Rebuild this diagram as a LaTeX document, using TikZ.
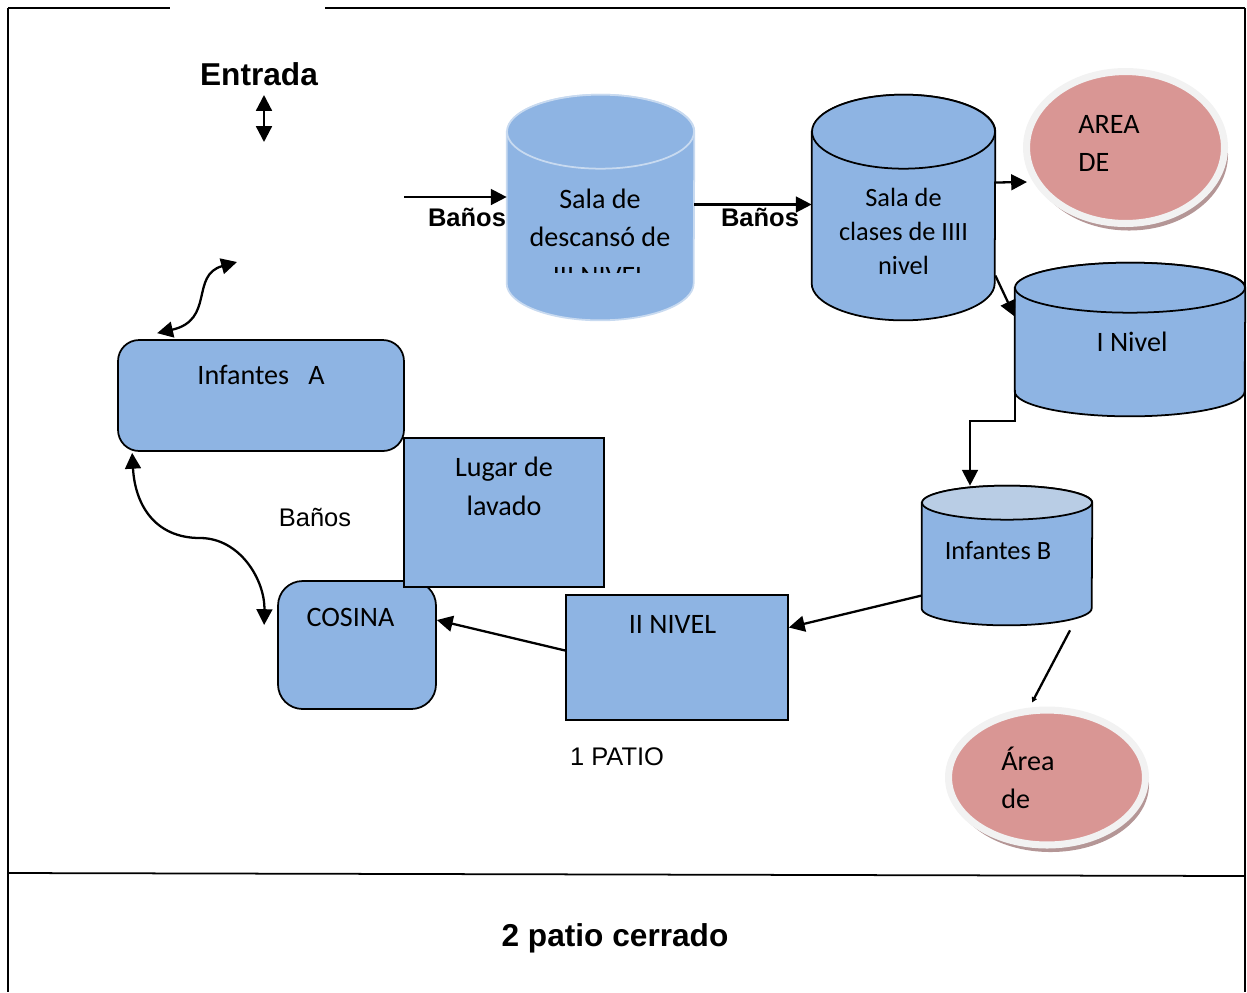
\documentclass[tikz,border=0pt]{standalone}
\usepackage{fontspec}
\setmainfont{Carlito}
\newfontfamily\arial{Liberation Sans}
\usepackage{tikz}
\usetikzlibrary{shadows}
\usetikzlibrary{positioning}
\usetikzlibrary{arrows.meta,shapes.geometric}
\usetikzlibrary{calc}
\definecolor{azulcaja}{RGB}{142,180,227}
\definecolor{azulclaro}{RGB}{185,205,229}
\definecolor{bordeclaro}{RGB}{200,218,240}
\definecolor{rosa}{RGB}{217,150,148}
\definecolor{grisborde}{RGB}{242,242,242}
\definecolor{sombra}{RGB}{180,150,150}
\tikzstyle{hueco}=[rectangle,inner sep=0pt]
\tikzstyle{caja}=[rectangle,draw=black,line width=1pt,fill=azulcaja]
\tikzstyle{cajaredonda}=[caja,rounded corners=12pt]
\tikzstyle{zona}=[ellipse,draw=grisborde,line width=4pt,fill=rosa,drop shadow={shadow xshift=2pt,shadow yshift=-4pt,fill=sombra,opacity=1}]
\tikzstyle{flecha} = [draw,line width=1.3pt,-{Triangle[length=9pt,width=9pt]}]
\tikzstyle{flechita} = [draw,line width=1.3pt,-{Triangle[length=3pt,width=3pt]}]
\tikzstyle{dobleflecha} = [draw,line width=1.3pt,{Triangle[length=9pt,width=9pt]}-{Triangle[length=9pt,width=9pt]}]
\tikzstyle{texto} = [anchor=base,align=center,inner sep=0pt,font=\fontsize{16}{22}\selectfont]
\tikzstyle{rotulo} = [anchor=base,inner sep=0pt,font=\arial\fontsize{14.5}{17}\selectfont]
\tikzstyle{rotulonegro} = [anchor=base,inner sep=0pt,font=\arial\bfseries\fontsize{14.5}{17}\selectfont]
\tikzstyle{titulo} = [anchor=base,inner sep=0pt,font=\arial\bfseries\fontsize{18}{22}\selectfont]

\begin{document}
\begin{tikzpicture}[x=0.02cm,y=-0.02cm]
    \useasboundingbox (0,0) rectangle (1247,992);
    % the frame of the plan
    \draw[line width=1pt] (8,8) -- (170,8);
    \draw[line width=1pt] (325,8) -- (1245,8);
    \draw[line width=1pt] (8,8) -- (8,992);
    \draw[line width=1pt] (1245,8) -- (1245,992);
    \draw[line width=1pt] (8,873) -- (1245,876);

    % First we draw the rooms
    \node[hueco,minimum width=3.74cm,minimum height=4.5cm] (descanso) at (600.5,207.5) {};
    \node[hueco,minimum width=3.66cm,minimum height=4.5cm] (clases) at (903.5,207.5) {};
    \node[hueco,minimum width=4.6cm,minimum height=3.06cm] (nivelI) at (1130,339.5) {};
    \node[hueco,minimum width=3.4cm,minimum height=2.78cm] (infB) at (1007,555.5) {};
    % cylinders: body, then the top
    \foreach \name/\rx/\ry/\borde/\tapa in {descanso/93.5/37/bordeclaro/azulcaja, clases/91.5/37/black/azulcaja, nivelI/115/25/black/azulcaja, infB/85/17/black/azulclaro}
    {
        \path[fill=azulcaja,draw=\borde,line width=1pt] ($(\name.north west)+(0,\ry)$) -- ($(\name.south west)+(0,-\ry)$)
            arc[start angle=180,end angle=360,x radius=\rx*0.02cm,y radius=\ry*0.02cm] -- ($(\name.north east)+(0,\ry)$)
            arc[start angle=0,end angle=180,x radius=\rx*0.02cm,y radius=\ry*0.02cm] -- cycle;
        \path[fill=\tapa,draw=\borde,line width=1pt] ($(\name.north)+(0,\ry)$) ellipse[x radius=\rx*0.02cm,y radius=\ry*0.02cm];
    }
    \node[cajaredonda,minimum width=5.72cm,minimum height=2.22cm] (infA) at (261,395.5) {};
    \node[cajaredonda,rounded corners=14pt,minimum width=3.16cm,minimum height=2.56cm] (cosina) at (357,645) {};
    \node[caja,minimum width=4cm,minimum height=2.98cm] (lavado) at (504,512.5) {};
    \node[caja,minimum width=4.44cm,minimum height=2.5cm] (nivelII) at (677,657.5) {};
    \node[zona,minimum width=3.96cm,minimum height=3.04cm] (areaA) at (1125.5,147.5) {};
    \node[zona,minimum width=3.94cm,minimum height=2.7cm] (areaB) at (1047,777.5) {};

    % Then the texts
    \foreach \pos/\name/\label in {{(261,384)/tinfA/Infantes~~~A}, {(504,515)/tlavado/Lugar de\\lavado}, {(350.5,626)/tcosina/COSINA}, {(672.5,633.3)/tnivelII/II NIVEL}, {(1132,351.7)/tnivelI/I Nivel}}
        \node[texto] (\name) at \pos {\label};
    \node[texto,font=\fontsize{15}{19}\selectfont] (tinfB) at (998,559.3) {Infantes B};
    \node[texto,anchor=base west,align=left] (tareaA) at (1078,171.7) {AREA\\DE};
    \node[texto,anchor=base west,align=left,font=\fontsize{16}{21.3}\selectfont] (tareaB) at (1001,808.3) {Área\\de};
    \begin{scope}
        \clip (500,150) rectangle (700,272.7);
        \node[texto] (tdescanso) at (600,285.4) {Sala de\\descansó de\\III NIVEL};
    \end{scope}
    \begin{scope}
        \clip (800,150) rectangle (1000,273);
        \node[texto,font=\fontsize{15}{19.3}\selectfont] (tclases) at (903.5,274) {Sala de\\clases de IIII\\nivel};
    \end{scope}

    \node[titulo] (entrada) at (259,85) {Entrada};
    \node[titulo] (patio2) at (615,946) {2 patio cerrado};
    \node[rotulonegro] (banos1) at (467,226.7) {Baños};
    \node[rotulonegro] (banos2) at (760,226.7) {Baños};
    \node[rotulo] (banos3) at (315,526.7) {Baños};
    \node[rotulo] (patio1) at (617,765) {1 PATIO};

    % Connect rooms with arrows
    \coordinate (puerta1) at (264,95);
    \coordinate (puerta2) at (264,142);
    \path[dobleflecha] (puerta1) -- (puerta2);
    \coordinate (acceso) at (237,262);
    \path[dobleflecha] (acceso) .. controls (190,275) and (215,320) .. ($(infA.north west)+(40,-6)$);
    \coordinate (pasillo) at (404,197);
    \path[flecha] (pasillo) -- (pasillo -| descanso.west);
    \path[flecha] ($(descanso.east)+(0,-3)$) -- ($(clases.west)+(0,-3)$);
    \path[flecha] ($(clases.east)+(0,-25)$) -- ($(areaA.west)+(4,34.5)$);
    \path[flecha] ($(clases.east)+(0,68)$) -- ($(nivelI.west)+(0,-23)$);
    \coordinate (codo) at (970,421);
    \path[flecha] ($(nivelI.west)+(0,50)$) |- (codo) -- (codo |- infB.north);
    \path[flecha] ($(infB.west)+(0,40)$) -- ($(nivelII.east)+(0,-30)$);
    \path[flechita] ($(infB.south)+(63,5)$) -- ($(areaB.north)+(-15,-4)$);
    \path[flecha] ($(nivelII.west)+(0,-7)$) -- ($(cosina.east)+(0,-25)$);
    \path[dobleflecha] ($(infA.south west)+(15,1)$) .. controls (135,505) and (155,538) .. (200,538) .. controls (240,538) and (265,580) .. ($(cosina.west)+(-13,-20)$);
\end{tikzpicture}
\end{document}
